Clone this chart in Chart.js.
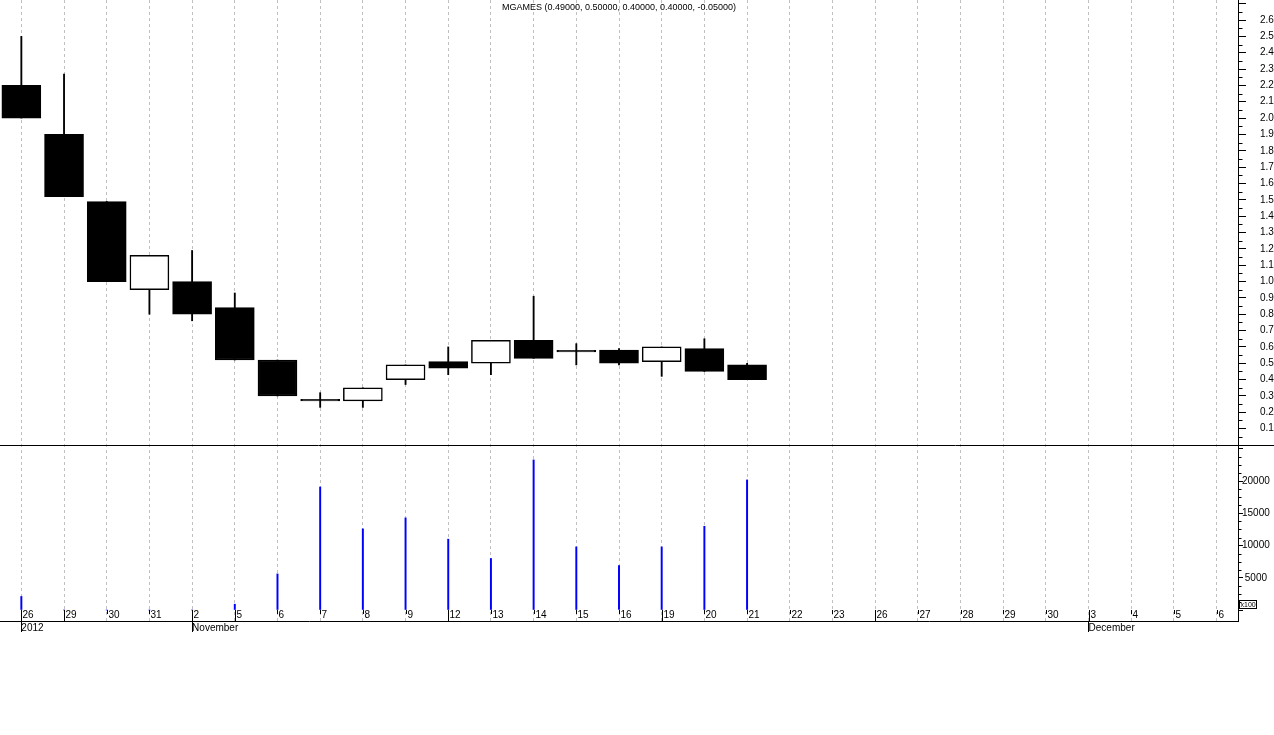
<!DOCTYPE html>
<html>
<head>
<meta charset="utf-8">
<title>MGAMES</title>
<script src="https://cdn.jsdelivr.net/npm/chart.js@4.4.0/dist/chart.umd.min.js"></script>
<style>
  html, body { margin: 0; padding: 0; background: #fff; }
  #wrap { width: 1274px; height: 735px; }
</style>
</head>
<body>
<div id="wrap"><canvas id="chart" width="1274" height="735"></canvas></div>
<script>
const symbol = 'MGAMES';

// trading days shown on the axis (last ones have no data yet)
const dates = [
    '2012-10-26', '2012-10-29', '2012-10-30', '2012-10-31', '2012-11-02',
    '2012-11-05', '2012-11-06', '2012-11-07', '2012-11-08', '2012-11-09',
    '2012-11-12', '2012-11-13', '2012-11-14', '2012-11-15', '2012-11-16',
    '2012-11-19', '2012-11-20', '2012-11-21', '2012-11-22', '2012-11-23',
    '2012-11-26', '2012-11-27', '2012-11-28', '2012-11-29', '2012-11-30',
    '2012-12-03', '2012-12-04', '2012-12-05', '2012-12-06'
];

const opens  = [2.20, 1.90, 1.49, 0.95, 1.00, 0.84, 0.52, 0.27, 0.27, 0.40, 0.51, 0.50, 0.64, 0.57, 0.58, 0.51, 0.59, 0.49];
const highs  = [2.50, 2.27, 1.49, 1.16, 1.19, 0.93, 0.52, 0.32, 0.35, 0.49, 0.60, 0.64, 0.91, 0.62, 0.59, 0.60, 0.65, 0.50];
const lows   = [2.00, 1.52, 1.00, 0.80, 0.76, 0.52, 0.30, 0.23, 0.23, 0.37, 0.43, 0.43, 0.53, 0.49, 0.49, 0.42, 0.45, 0.40];
const closes = [2.00, 1.52, 1.00, 1.16, 0.80, 0.52, 0.30, 0.27, 0.35, 0.49, 0.47, 0.64, 0.53, 0.57, 0.50, 0.60, 0.45, 0.40];
const volumes = [2100, 0, 0, 0, 0, 900, 5600, 19100, 12600, 14300, 11000, 8000, 23300, 9800, 6900, 9800, 13000, 20200];

const priceStep = 0.1;
const volumeTicks = [0, 5000, 10000, 15000, 20000, 25000];
const monthNames = ['January', 'February', 'March', 'April', 'May', 'June', 'July',
    'August', 'September', 'October', 'November', 'December'];

const FONT = '"Liberation Sans", Arial, sans-serif';

function parseDay(s) {
    const p = s.split('-').map(Number);
    return new Date(Date.UTC(p[0], p[1] - 1, p[2]));
}
const days = dates.map(parseDay);
const dayLabels = days.map(d => String(d.getUTCDate()));
const periodLabels = days.map((d, i) => {
    if (i === 0) return String(d.getUTCFullYear());
    if (d.getUTCMonth() !== days[i - 1].getUTCMonth()) return monthNames[d.getUTCMonth()];
    return '';
});
const weekStart = days.map((d, i) => d.getUTCDay() === 1 || periodLabels[i] !== '');

const last = closes.length - 1;
const titleText = symbol + ' (' + [opens[last], highs[last], lows[last], closes[last], closes[last] - closes[last - 1]]
    .map(v => v.toFixed(5)).join(', ') + ')';

const decor = {
    id: 'decor',
    afterDraw(chart) {
        const c = chart.ctx;
        const a = chart.chartArea;
        const xs = chart.scales.x, ys = chart.scales.y, yv = chart.scales.yv;
        const line = (x1, y1, x2, y2) => { c.beginPath(); c.moveTo(x1, y1); c.lineTo(x2, y2); c.stroke(); };
        c.save();
        c.strokeStyle = '#000';
        c.fillStyle = '#000';
        c.lineWidth = 1;

        // pane separator
        const sy = Math.round(ys.bottom) + 0.5;
        line(0, sy, chart.width, sy);

        // day ticks and day labels inside the volume pane
        c.font = '10px ' + FONT;
        c.textAlign = 'left';
        c.textBaseline = 'middle';
        dates.forEach((d, i) => {
            const x = Math.round(xs.getPixelForValue(i)) + 0.5;
            if (weekStart[i]) line(x, a.bottom - 11, x, a.bottom);
            else line(x, a.bottom - 11, x, a.bottom - 7);
            c.fillText(dayLabels[i], x + 1, a.bottom - 5.5);
        });

        // minor ticks on the right axes
        const ax = Math.round(a.right) + 0.5;
        for (let v = priceStep / 2; v < ys.max; v += priceStep) {
            const y = Math.round(ys.getPixelForValue(v)) + 0.5;
            line(ax, y, ax + 4, y);
        }
        for (let v = 1250; v < yv.max; v += 1250) {
            if (v % 5000 === 0) continue;
            const y = Math.round(yv.getPixelForValue(v)) + 0.5;
            line(ax, y, ax + 3, y);
        }

        // x100 marker on the volume axis
        const by = Math.round(yv.getPixelForValue(0)) - 9.5;
        c.strokeRect(ax + 1, by, 17, 8);
        c.font = '7px ' + FONT;
        c.fillText('x100', ax + 2, by + 4.5);

        // title
        c.font = '9px ' + FONT;
        c.textAlign = 'center';
        c.fillText(titleText, (a.left + a.right) / 2, 7.5);
        c.restore();
    }
};

const tickFont = { family: FONT, size: 10 };
const noPad = s => { s.paddingTop = 0; s.paddingBottom = 0; s.paddingLeft = 0; s.paddingRight = 0; };

new Chart(document.getElementById('chart').getContext('2d'), {
    type: 'bar',
    data: {
        labels: dayLabels,
        datasets: [
            {
                label: 'body',
                data: opens.map((o, i) => [o, closes[i]]),
                xAxisID: 'x',
                yAxisID: 'y',
                backgroundColor: opens.map((o, i) => closes[i] > o ? '#ffffff' : '#000000'),
                borderColor: '#000000',
                borderWidth: 1.5,
                borderSkipped: false,
                barThickness: 39,
                minBarLength: 1.5,
                grouped: false,
                order: 0
            },
            {
                label: 'wick',
                data: lows.map((l, i) => [l, highs[i]]),
                xAxisID: 'x',
                yAxisID: 'y',
                backgroundColor: '#000000',
                barThickness: 1.2,
                grouped: false,
                order: 1
            },
            {
                label: 'volume',
                data: volumes,
                xAxisID: 'x',
                yAxisID: 'yv',
                backgroundColor: '#0000ff',
                barThickness: 1.3,
                grouped: false,
                order: 2
            }
        ]
    },
    options: {
        responsive: false,
        animation: false,
        events: [],
        layout: { padding: { left: 0, top: 0, right: 0, bottom: 100 } },
        plugins: {
            legend: { display: false },
            title: { display: false },
            tooltip: { enabled: false }
        },
        scales: {
            x: {
                type: 'category',
                offset: true,
                grid: { offset: false, color: '#c0c0c0', lineWidth: 1, drawTicks: false },
                border: { color: '#000000', dash: [3, 3] },
                ticks: { display: false },
                afterFit: s => { noPad(s); s.height = 0; }
            },
            x2: {
                type: 'category',
                labels: periodLabels,
                position: 'bottom',
                offset: true,
                grid: {
                    offset: false, drawOnChartArea: false, drawTicks: true, tickLength: 11,
                    tickColor: c => periodLabels[c.index] ? '#000' : 'rgba(0,0,0,0)'
                },
                border: { display: false },
                ticks: { align: 'start', autoSkip: false, maxRotation: 0, padding: -10, font: tickFont, color: '#000' },
                afterFit: s => { noPad(s); s.height = 14; }
            },
            y: {
                type: 'linear',
                position: 'right',
                stack: 'pane',
                stackWeight: 445,
                min: 0,
                max: 2.7225,
                grid: { drawOnChartArea: false, drawTicks: true, tickLength: 8, tickColor: '#000' },
                border: { color: '#000' },
                ticks: {
                    stepSize: priceStep, includeBounds: false, autoSkip: false, crossAlign: 'center', padding: 14,
                    font: tickFont, color: '#000',
                    callback: v => (v > 0.05 && v < 2.65) ? v.toFixed(1) : ''
                },
                afterFit: s => { noPad(s); s.width = 36; }
            },
            yv: {
                type: 'linear',
                position: 'right',
                stack: 'pane',
                stackWeight: 176,
                min: -1708,
                max: 25620,
                grid: { drawOnChartArea: false, drawTicks: true, tickLength: 5, tickColor: '#000' },
                border: { color: '#000' },
                ticks: {
                    autoSkip: false, crossAlign: 'center', padding: -1,
                    font: tickFont, color: '#000',
                    callback: v => (v > 0 && v <= 20000) ? String(v) : ''
                },
                afterBuildTicks: s => { s.ticks = volumeTicks.map(v => ({ value: v })); },
                afterFit: s => { noPad(s); s.width = 36; }
            }
        }
    },
    plugins: [decor]
});
</script>
</body>
</html>
